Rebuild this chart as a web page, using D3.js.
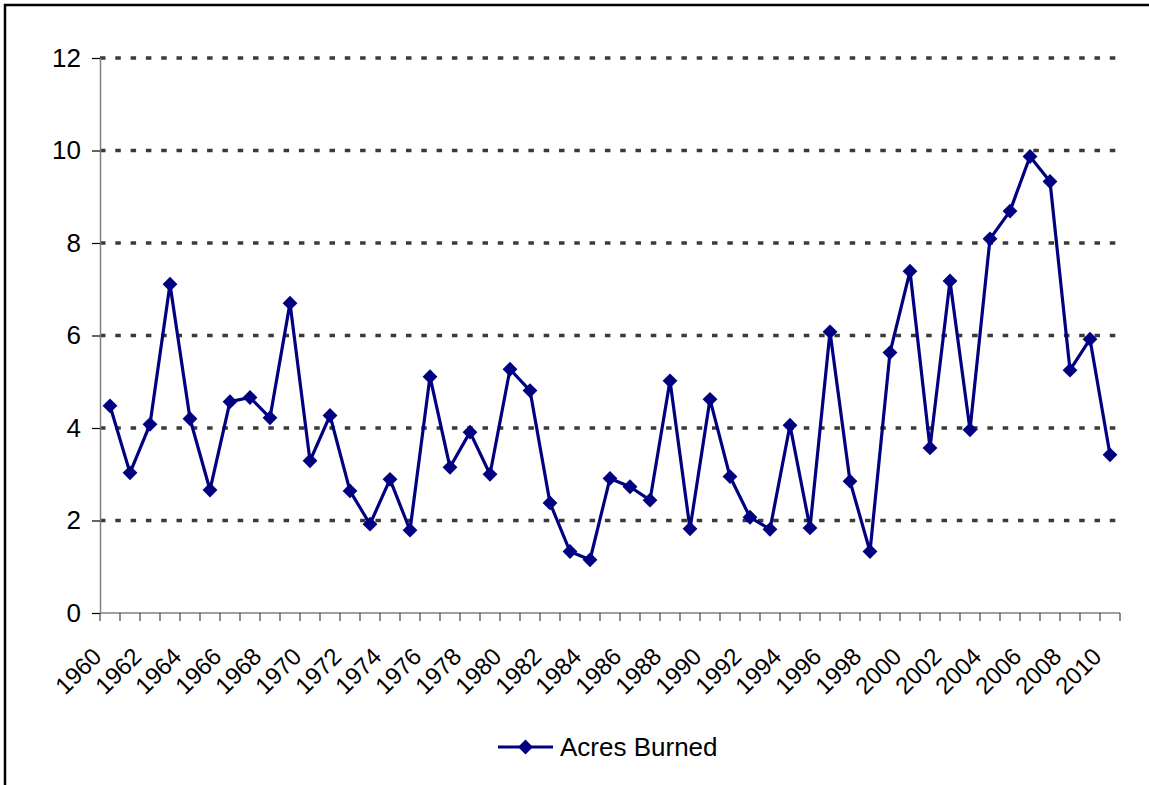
<!DOCTYPE html>
<html><head><meta charset="utf-8">
<script src="https://cdn.jsdelivr.net/npm/d3@7"></script>
<style>body{margin:0;background:#fff}svg{display:block}text{font-family:"Liberation Sans",Arial,sans-serif}</style>
</head><body>
<svg id="c" width="1149" height="785"></svg>
<script>
const years = d3.range(1960, 2011);
const acresBurned = [4.48,3.03,4.08,7.11,4.20,2.66,4.57,4.66,4.22,6.70,
  3.29,4.27,2.64,1.92,2.89,1.79,5.11,3.15,3.91,3.00,
  5.27,4.81,2.38,1.33,1.15,2.91,2.73,2.44,5.02,1.82,
  4.62,2.95,2.07,1.81,4.06,1.84,6.08,2.85,1.33,5.63,
  7.39,3.57,7.18,3.96,8.09,8.69,9.87,9.33,5.25,5.92,3.42];
const yTicks = [0,2,4,6,8,10,12];
const seriesName = "Acres Burned";

const svg = d3.select("#c");
svg.append("rect").attr("x",5).attr("y",5).attr("width",1160).attr("height",800)
  .attr("fill","#fff").attr("stroke","#000").attr("stroke-width",2.5);

const L=100, R=1120, T=58, B=613;
const x = d3.scaleBand().domain(years).range([L,R]).padding(0);
const y = d3.scaleLinear().domain([0,12]).range([B,T]);

// gridlines
svg.append("g").selectAll("line").data(yTicks.filter(d=>d>0)).join("line")
  .attr("x1",L).attr("x2",R).attr("y1",d=>y(d)).attr("y2",d=>y(d))
  .attr("stroke","#3a3a3a").attr("stroke-width",3.5).attr("stroke-dasharray","5.5,9.8");

// y axis
const ya = svg.append("g").attr("transform",`translate(${L},0)`)
  .call(d3.axisLeft(y).tickValues(yTicks).tickSize(8).tickPadding(11).tickFormat(d3.format("d")));
ya.select(".domain").attr("stroke","#808080").attr("stroke-width",1.5).attr("d",`M0.5,${B}V${T}`);
ya.selectAll(".tick line").attr("stroke","#000").attr("stroke-width",1.2);
ya.selectAll(".tick text").attr("font-size",26).attr("fill","#000")
  .attr("font-family","'Liberation Sans',Arial,sans-serif");

// x axis
const xa = svg.append("g").attr("transform",`translate(0,${B})`);
xa.append("line").attr("x1",L).attr("x2",R).attr("y1",0).attr("y2",0)
  .attr("stroke","#808080").attr("stroke-width",1.5);
const bounds = years.map(d=>x(d)).concat([R]);
xa.selectAll("line.t").data(bounds).join("line").attr("class","t")
  .attr("x1",d=>d).attr("x2",d=>d).attr("y1",0).attr("y2",8)
  .attr("stroke","#444").attr("stroke-width",1.2);
xa.selectAll("text").data(years.filter((d,i)=>i%2===0)).join("text")
  .attr("transform",d=>`translate(${x(d)+x.bandwidth()/2-19},${33}) rotate(-45)`)
  .attr("text-anchor","end").attr("dy","0.71em").attr("font-size",24).attr("fill","#000")
  .text(d=>d);

// line + markers
const line = d3.line().x((d,i)=>x(years[i])+x.bandwidth()/2).y(d=>y(d));
svg.append("path").datum(acresBurned).attr("d",line).attr("fill","none")
  .attr("stroke","#000080").attr("stroke-width",3.2).attr("stroke-linejoin","round");
const diamond = d3.symbol().type(d3.symbolDiamond2).size(140);
svg.append("g").selectAll("path").data(acresBurned).join("path")
  .attr("d",diamond)
  .attr("transform",(d,i)=>`translate(${x(years[i])+x.bandwidth()/2},${y(d)})`)
  .attr("fill","#000080");

// legend
const lg = svg.append("g").attr("transform","translate(498,747)");
lg.append("line").attr("x1",0).attr("x2",55).attr("stroke","#000080").attr("stroke-width",3.2);
lg.append("path").attr("d",diamond).attr("transform","translate(27.5,0)").attr("fill","#000080");
lg.append("text").attr("x",62).attr("y",0).attr("dy","0.35em").attr("font-size",26).attr("fill","#000").text(seriesName);
</script>
</body></html>
